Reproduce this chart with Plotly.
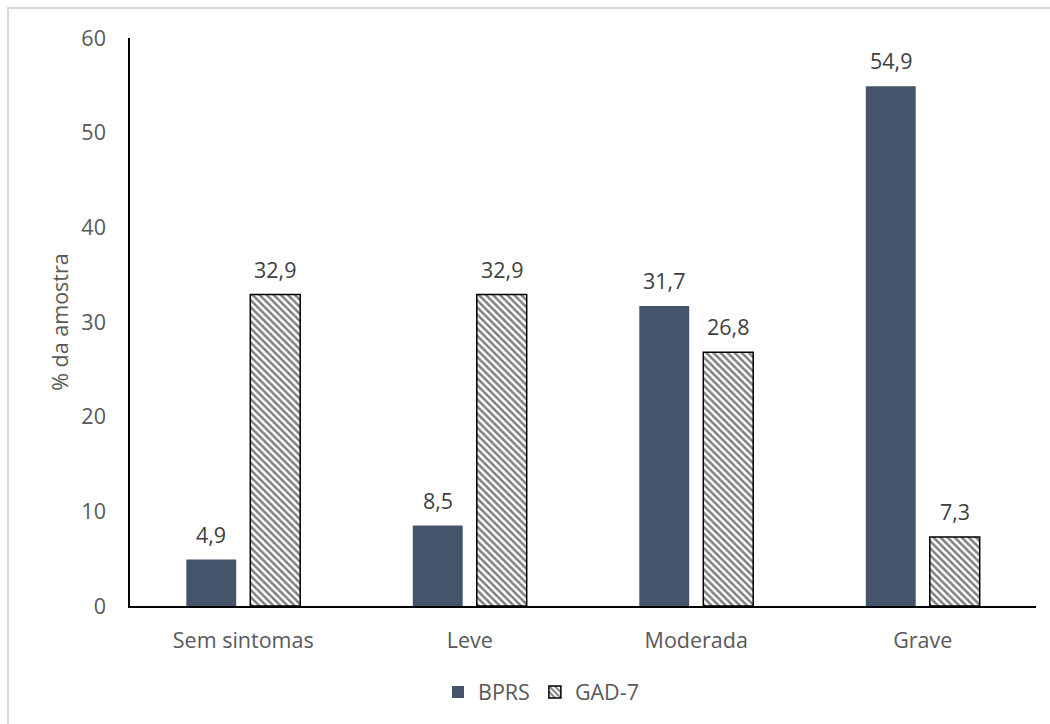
import plotly.graph_objects as go

categories = ["Sem sintomas", "Leve", "Moderada", "Grave"]
bprs = [4.9, 8.5, 31.7, 54.9]
gad7 = [32.9, 32.9, 26.8, 7.3]
y_ticks = [0, 10, 20, 30, 40, 50, 60]

W, H = 1050, 724
L, R, T, B = 130, 14, 38, 118
pw, ph = W - L - R, H - T - B

def px(x):
    return (x - L) / pw

def py(y):
    return 1 - (y - T) / ph

font_family = "'Open Sans', sans-serif"
label_color = "#404040"
axis_color = "#595959"
FS = 21.5

fig = go.Figure()
fig.add_trace(go.Bar(
    name="BPRS", x=categories, y=bprs,
    marker=dict(color="#44546A", line=dict(width=0)),
))
fig.add_trace(go.Bar(
    name="GAD-7", x=categories, y=gad7,
    marker=dict(color="white",
                line=dict(color="black", width=1.5),
                pattern=dict(shape="\\", fgcolor="black", bgcolor="white",
                             size=5, solidity=0.5)),
))

def fmt(v):
    return f"{v:.1f}".replace(".", ",")

annotations = []
for cat, v in zip(categories, bprs):
    annotations.append(dict(x=cat, y=v, xref="x", yref="y", text=fmt(v),
                            showarrow=False, yanchor="bottom", xshift=-32, yshift=9,
                            font=dict(size=FS, color=label_color, family=font_family)))
for cat, v in zip(categories, gad7):
    annotations.append(dict(x=cat, y=v, xref="x", yref="y", text=fmt(v),
                            showarrow=False, yanchor="bottom", xshift=32, yshift=9,
                            font=dict(size=FS, color=label_color, family=font_family)))

fig.update_layout(
    width=W, height=H,
    margin=dict(l=L, r=R, t=T, b=B),
    paper_bgcolor="white", plot_bgcolor="white",
    barmode="group", bargap=0.435, bargroupgap=0.22,
    font=dict(family=font_family, size=FS, color=axis_color),
    showlegend=True,
    legend=dict(orientation="h", x=px(541), xanchor="center", y=py(692), yanchor="middle",
                font=dict(size=FS, color=axis_color), traceorder="normal",
                bgcolor="rgba(0,0,0,0)", itemwidth=30),
    annotations=annotations,
    shapes=[dict(type="rect", xref="paper", yref="paper",
                 x0=px(8), x1=px(1062), y0=py(8), y1=py(740),
                 line=dict(color="#D9D9D9", width=2), fillcolor="rgba(0,0,0,0)",
                 layer="below")],
)
fig.update_xaxes(showline=True, linecolor="black", linewidth=1.5, showgrid=False,
                 ticks="", tickfont=dict(size=FS, color=axis_color), ticklabelstandoff=14)
fig.update_yaxes(range=[0, 60], tickvals=y_ticks, showline=True, linecolor="black",
                 linewidth=1.5, showgrid=False, zeroline=False, ticks="",
                 tickfont=dict(size=FS, color=axis_color), ticklabelstandoff=18,
                 title=dict(text="% da amostra", font=dict(size=FS, color=axis_color), standoff=7))

fig.write_html("out.html")
